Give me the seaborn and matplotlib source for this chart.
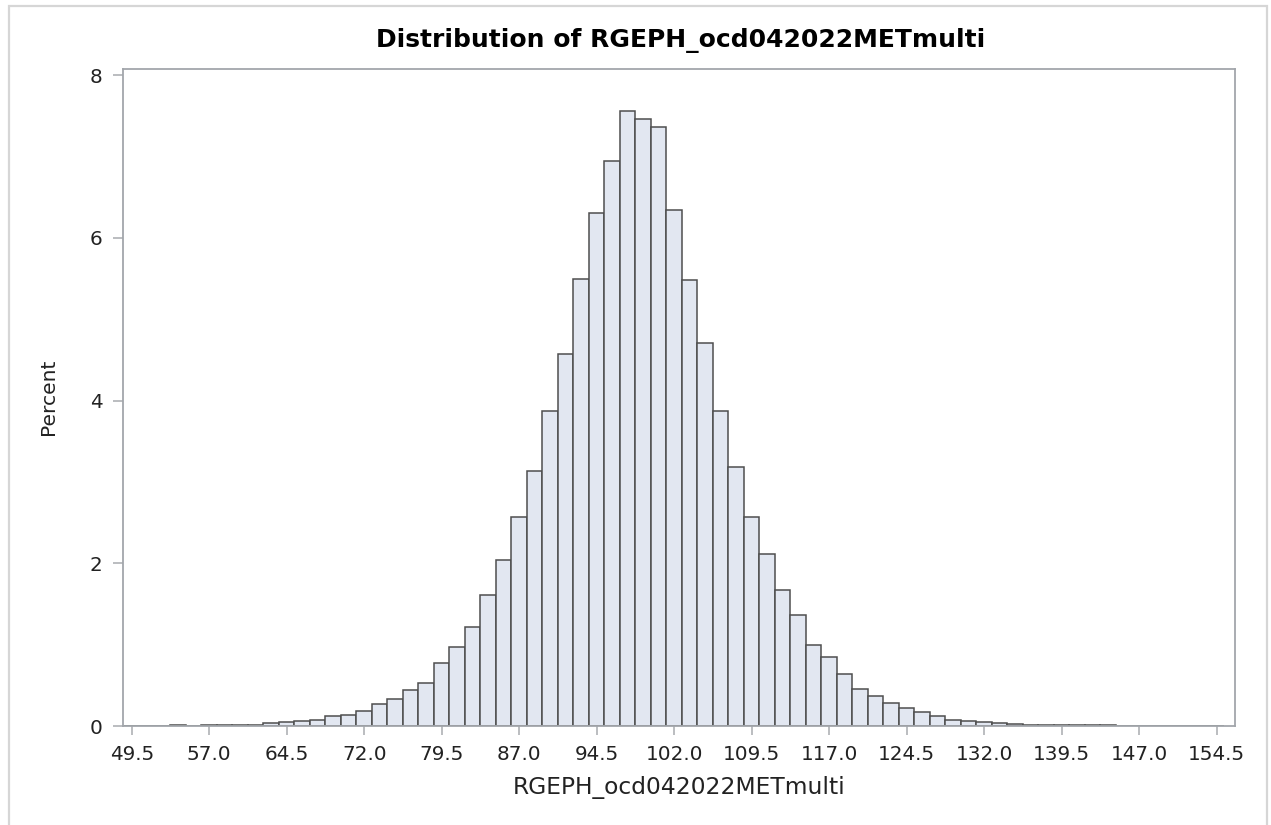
import numpy as np
import pandas as pd
import matplotlib
matplotlib.use("Agg")
import matplotlib.pyplot as plt
import seaborn as sns
from matplotlib.patches import Rectangle

# ---- data ----
bin_start = 49.5
bin_width = 1.5
percent = [
    0.006, 0.006, 0.005, 0.008, 0.006, 0.009, 0.012, 0.010, 0.012, 0.037,
    0.045, 0.057, 0.074, 0.119, 0.131, 0.184, 0.266, 0.328, 0.442, 0.528,
    0.770, 0.970, 1.220,
    1.615, 2.036, 2.569, 3.134, 3.865, 4.574, 5.490, 6.301, 6.946, 7.553,
    7.463, 7.356, 6.343, 5.480, 4.707, 3.865, 3.188, 2.569, 2.118, 1.677,
    1.360, 0.999, 0.852, 0.643, 0.450, 0.369, 0.283, 0.221, 0.168, 0.119,
    0.070, 0.061, 0.045, 0.033, 0.029, 0.016, 0.012, 0.010, 0.008, 0.007,
    0.007, 0.006, 0.006, 0.006, 0.006, 0.006, 0.005, 0.005,
]
x_ticks = [49.5, 57.0, 64.5, 72.0, 79.5, 87.0, 94.5, 102.0, 109.5, 117.0,
           124.5, 132.0, 139.5, 147.0, 154.5]
y_ticks = [0, 2, 4, 6, 8]
title = "Distribution of RGEPH_ocd042022METmulti"
x_label = "RGEPH_ocd042022METmulti"
y_label = "Percent"

n_bins = len(percent)
midpoints = bin_start + bin_width * np.arange(n_bins)
bin_range = (bin_start - bin_width / 2, bin_start + bin_width * (n_bins - 0.5))
df = pd.DataFrame({"mid": midpoints, "pct": percent})

sns.set_theme(style="white")
plt.rcParams["font.family"] = ["DejaVu Sans"]

W, H = 1271, 825
fig = plt.figure(figsize=(W / 100, H / 100), dpi=100)
ax_l, ax_r, ax_t, ax_b = 122.7, 1235.0, 68.5, 726.0
ax = fig.add_axes([ax_l / W, 1 - ax_b / H, (ax_r - ax_l) / W, (ax_b - ax_t) / H])

sns.histplot(data=df, x="mid", weights="pct", bins=n_bins, binrange=bin_range,
             stat="count", color="#E2E7F1", edgecolor="#4E4E4E",
             linewidth=1.1, alpha=1.0, ax=ax)

ax.set_xlim(48.63, 156.27)
ax.set_ylim(0, 8.08)
ax.set_xticks(x_ticks)
ax.set_xticklabels([f"{v:.1f}" for v in x_ticks])
ax.set_yticks(y_ticks)
ax.set_yticklabels([str(v) for v in y_ticks])

frame_col = "#A2A6AB"
for s in ax.spines.values():
    s.set_visible(True)
    s.set_color(frame_col)
    s.set_linewidth(1.3)

ax.tick_params(axis="both", which="major", direction="out", color="#B5B8BB",
               width=1.3, labelsize=14.4, labelcolor="#222222",
               bottom=True, left=True, top=False, right=False)
ax.tick_params(axis="x", length=6.5, pad=7)
ax.tick_params(axis="y", length=7.5, pad=7)
ax.grid(False)

ax.set_xlabel(x_label, fontsize=16.8, color="#222222")
ax.set_ylabel(y_label, fontsize=14.6, color="#222222")
ax.xaxis.set_label_coords(0.5, -0.076)
ax.yaxis.set_label_coords(-0.058, 0.5)

ax.text(0.502, (ax_b - 47) / (ax_b - ax_t), title, transform=ax.transAxes,
        ha="center", va="baseline", fontsize=18, fontweight="bold",
        color="#000000")

# outer light-gray border of the output frame
fig.patches.append(Rectangle((9 / W, -0.02), (1267 - 9) / W, (H - 6) / H + 0.02,
                             transform=fig.transFigure, fill=False,
                             edgecolor="#D6D6D6", linewidth=1.6))

fig.savefig("out.png", dpi=100)
